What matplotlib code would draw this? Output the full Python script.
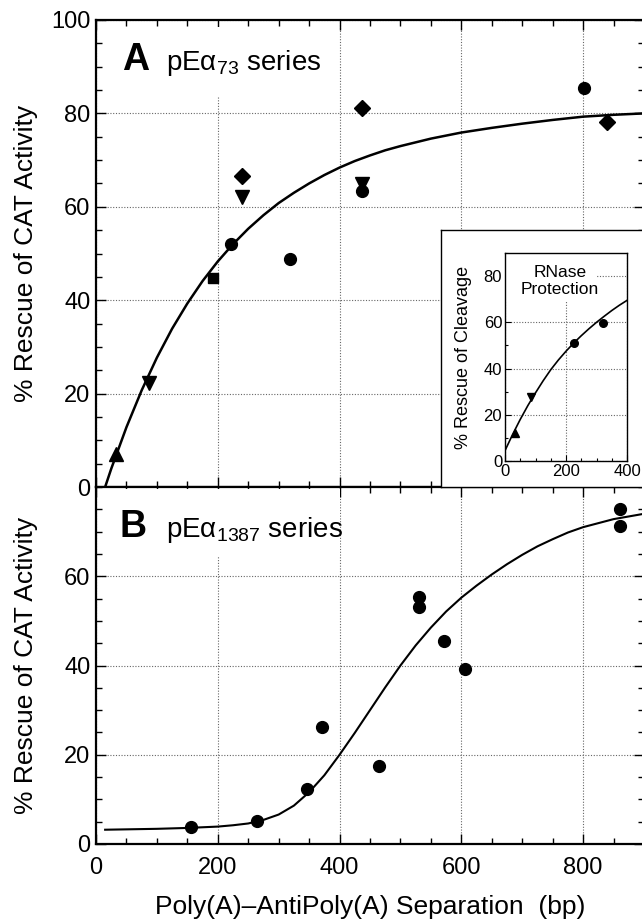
import matplotlib
matplotlib.use("Agg")
import matplotlib.pyplot as plt
from matplotlib.patches import Rectangle
from matplotlib.ticker import MultipleLocator

plt.rcParams["font.family"] = ["Liberation Sans", "DejaVu Sans"]
plt.rcParams["mathtext.fontset"] = "custom"
plt.rcParams["mathtext.rm"] = "Liberation Sans"
plt.rcParams["mathtext.it"] = "Liberation Sans:italic"
plt.rcParams["mathtext.default"] = "regular"

# --- panel A: pEa73 series (bp, % rescue) ---
a_up_x = [33]
a_up_y = [7.0]
a_down_x = [87, 239, 437]
a_down_y = [22.3, 62.1, 64.9]
a_square_x = [192]
a_square_y = [44.8]
a_circle_x = [222, 318, 437, 801]
a_circle_y = [52.0, 48.8, 63.4, 85.4]
a_diamond_x = [239, 437, 839]
a_diamond_y = [66.6, 81.2, 78.2]
# fitted curve
a_fit_x = [15, 25, 50, 75, 100, 125, 150, 175, 200, 225, 250, 275, 300, 325,
           350, 375, 400, 425, 450, 475, 500, 550, 600, 650, 700, 750, 800,
           850, 900]
a_fit_y = [0.0, 3.9, 12.8, 20.7, 27.7, 33.9, 39.3, 44.1, 48.3, 52.0, 55.3,
           58.2, 60.8, 63.0, 65.0, 66.8, 68.4, 69.8, 71.0, 72.1, 73.0, 74.6,
           75.9, 76.9, 77.8, 78.6, 79.3, 79.7, 80.0]

# --- panel B: pEa1387 series ---
b_x = [156, 265, 347, 371, 465, 530, 530, 571, 606, 861, 861]
b_y = [3.8, 5.2, 12.4, 26.3, 17.5, 55.3, 53.0, 45.6, 39.3, 75.0, 71.3]
b_fit_x = [15, 100, 150, 200, 225, 250, 275, 300, 325, 350, 375, 400, 425,
           450, 475, 500, 525, 550, 575, 600, 625, 650, 675, 700, 725, 750,
           775, 800, 850, 900]
b_fit_y = [3.2, 3.4, 3.6, 3.9, 4.2, 4.6, 5.4, 6.6, 8.6, 11.6, 15.4, 20.0,
           24.9, 30.0, 35.1, 40.0, 44.5, 48.5, 52.1, 55.2, 57.9, 60.4, 62.7,
           64.8, 66.7, 68.3, 69.8, 71.0, 72.8, 74.0]

# --- inset: RNase protection ---
rp_up_x = [33]
rp_up_y = [12.0]
rp_down_x = [86]
rp_down_y = [27.6]
rp_circle_x = [225, 321]
rp_circle_y = [50.9, 59.5]
rp_fit_x = [0, 25, 50, 75, 100, 125, 150, 175, 200, 225, 250, 275, 300, 325,
            350, 375, 400]
rp_fit_y = [4.5, 11.5, 18.0, 24.0, 29.5, 34.7, 39.5, 43.7, 47.5, 51.0, 54.2,
            57.2, 60.0, 62.6, 65.1, 67.4, 69.5]

W, H = 642, 919
fig = plt.figure(figsize=(W / 100, H / 100), dpi=100)

left, right = 96, 644


def box(x0, y0, x1, y1):
    """pixel box (top-left origin) -> figure fraction rect"""
    return [x0 / W, 1 - y1 / H, (x1 - x0) / W, (y1 - y0) / H]


ax_a = fig.add_axes(box(left, 20, right, 487))
ax_b = fig.add_axes(box(left, 487, right, 844))

grid_kw = dict(color="0.4", linestyle=(0, (1, 1.5)), linewidth=0.8)

for ax in (ax_a, ax_b):
    ax.set_xlim(0, 900)
    ax.xaxis.set_major_locator(MultipleLocator(200))
    ax.xaxis.set_minor_locator(MultipleLocator(50))
    ax.yaxis.set_minor_locator(MultipleLocator(5))
    ax.set_axisbelow(True)
    ax.grid(True, which="major", **grid_kw)
    ax.tick_params(which="both", direction="in", top=True, right=True,
                   labelsize=17, width=1.0, pad=4)
    ax.tick_params(axis="x", pad=9)
    ax.tick_params(which="major", length=7)
    ax.tick_params(which="minor", length=4)
    for sp in ax.spines.values():
        sp.set_linewidth(1.6)
    ax.set_ylabel("% Rescue of CAT Activity", fontsize=19)
    ax.yaxis.set_label_coords(-0.105, 0.5)

mk = dict(color="black", linestyle="none", zorder=3)

# panel A
ax_a.set_ylim(0, 100)
ax_a.yaxis.set_major_locator(MultipleLocator(20))
ax_a.tick_params(labelbottom=False)
ax_a.add_patch(Rectangle((15, 83.5), 370, 15, facecolor="white",
                         edgecolor="none", zorder=1))
ax_a.plot(a_fit_x, a_fit_y, color="black", linewidth=1.8, zorder=2)
ax_a.plot(a_up_x, a_up_y, marker="^", markersize=10, **mk)
ax_a.plot(a_down_x, a_down_y, marker="v", markersize=10, **mk)
ax_a.plot(a_square_x, a_square_y, marker="s", markersize=7.5, **mk)
ax_a.plot(a_circle_x, a_circle_y, marker="o", markersize=8.5, **mk)
ax_a.plot(a_diamond_x, a_diamond_y, marker="D", markersize=8.5, **mk)
ax_a.text(0.047, 0.893, "A", transform=ax_a.transAxes, fontsize=27,
          fontweight="bold", va="baseline", zorder=4)
ax_a.text(0.128, 0.893, r"pE$\alpha_{73}$ series", transform=ax_a.transAxes,
          fontsize=20, va="baseline", zorder=4)

# panel B
ax_b.set_ylim(0, 80)
ax_b.set_yticks([0, 20, 40, 60])
ax_b.add_patch(Rectangle((15, 64.5), 385, 15, facecolor="white",
                         edgecolor="none", zorder=1))
ax_b.plot(b_fit_x, b_fit_y, color="black", linewidth=1.5, zorder=2)
ax_b.plot(b_x, b_y, marker="o", markersize=8.5, **mk)
ax_b.text(0.042, 0.86, "B", transform=ax_b.transAxes, fontsize=27,
          fontweight="bold", va="baseline", zorder=4)
ax_b.text(0.128, 0.86, r"pE$\alpha_{1387}$ series", transform=ax_b.transAxes,
          fontsize=20, va="baseline", zorder=4)
ax_b.set_xlabel("Poly(A)\u2013AntiPoly(A) Separation  (bp)", fontsize=19,
                labelpad=12)

# inset frame and inset axes
frame = fig.add_axes(box(441, 230, right, 487))
frame.set_xticks([])
frame.set_yticks([])
frame.set_facecolor("white")
for sp in frame.spines.values():
    sp.set_linewidth(1.0)

ax_i = fig.add_axes(box(505, 253, 627, 461))
ax_i.set_xlim(0, 400)
ax_i.set_ylim(0, 90)
ax_i.xaxis.set_major_locator(MultipleLocator(200))
ax_i.xaxis.set_minor_locator(MultipleLocator(50))
ax_i.yaxis.set_major_locator(MultipleLocator(20))
ax_i.yaxis.set_minor_locator(MultipleLocator(10))
ax_i.set_axisbelow(True)
ax_i.grid(True, which="major", **grid_kw)
ax_i.tick_params(which="both", direction="in", labelsize=12, width=0.8, pad=2)
ax_i.tick_params(which="major", length=4)
ax_i.tick_params(which="minor", length=2.5)
for sp in ax_i.spines.values():
    sp.set_linewidth(1.0)
ax_i.add_patch(Rectangle((3, 69), 295, 20.5, facecolor="white",
                         edgecolor="none", zorder=1))
ax_i.plot(rp_fit_x, rp_fit_y, color="black", linewidth=1.2, zorder=2)
ax_i.plot(rp_up_x, rp_up_y, marker="^", markersize=6, **mk)
ax_i.plot(rp_down_x, rp_down_y, marker="v", markersize=6, **mk)
ax_i.plot(rp_circle_x, rp_circle_y, marker="o", markersize=5.5, **mk)
ax_i.text(0.45, 0.865, "RNase\nProtection", transform=ax_i.transAxes,
          fontsize=12.5, ha="center", va="center", linespacing=1.1, zorder=4)
ax_i.set_ylabel("% Rescue of Cleavage", fontsize=13)
ax_i.yaxis.set_label_coords(-0.27, 0.5)

fig.savefig("out.png", dpi=100)
